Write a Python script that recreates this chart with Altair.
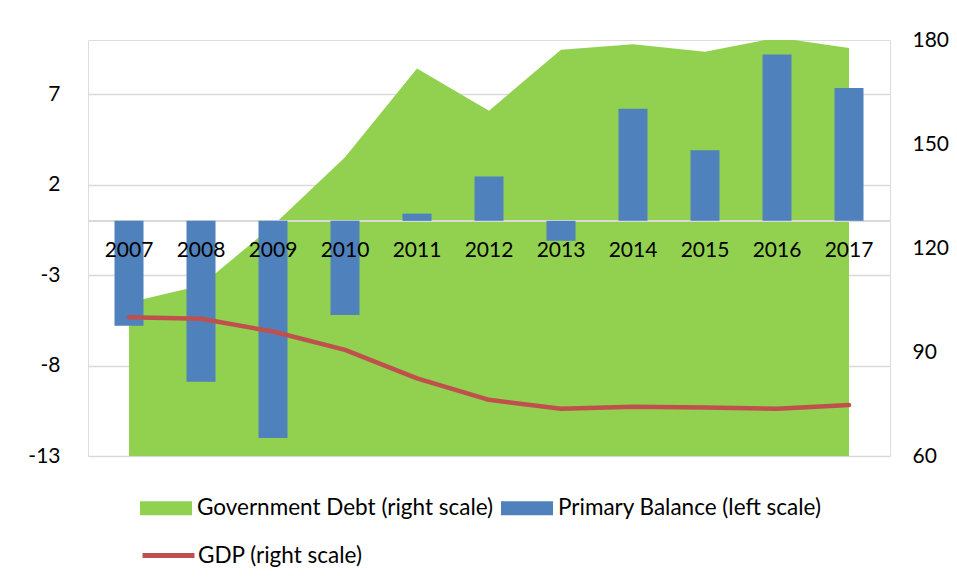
import altair as alt
import pandas as pd

years = [2007, 2008, 2009, 2010, 2011, 2012, 2013, 2014, 2015, 2016, 2017]
year_labels = ["2007", "2008", "2009", "2010", "2011", "2012", "2013", "2014", "2015", "2016", "2017"]
primary_balance = [-5.8, -8.9, -12.0, -5.2, 0.4, 2.45, -1.1, 6.2, 3.9, 9.2, 7.35]
government_debt = [104.3, 109.2, 126.5, 146.2, 171.8, 159.6, 177.2, 178.8, 176.6, 180.7, 177.7]
gdp = [100.0, 99.6, 95.9, 90.6, 82.4, 76.2, 73.6, 74.2, 74.0, 73.6, 74.7]

debt_name = "Government Debt (right scale)"
balance_name = "Primary Balance (left scale)"
gdp_name = "GDP (right scale)"

left_ticks = [-13, -8, -3, 2, 7]
right_ticks = [60, 90, 120, 150, 180]

df = pd.DataFrame({
    "year": years,
    "label": year_labels,
    "balance": primary_balance,
    "debt": government_debt,
    "gdp": gdp,
    "debt_series": [debt_name] * len(years),
    "balance_series": [balance_name] * len(years),
    "gdp_series": [gdp_name] * len(years),
})

FONT = "Lato"
FS = 21
LFS = 22.5

x = alt.X("year:Q", scale=alt.Scale(domain=[2006.5, 2017.5], nice=False, zero=False), axis=None)

right_scale = alt.Scale(domain=[60, 180], nice=False, zero=False)
left_scale = alt.Scale(domain=[-13, 10], nice=False, zero=False)

left_axis = alt.Axis(orient="left", values=left_ticks, grid=True, gridColor="#D9D9D9", gridWidth=1.3,
                     domain=False, ticks=False, labelFont=FONT, labelFontSize=FS, labelColor="#000000",
                     labelPadding=28, title=None, labelExpr="'' + datum.value")
right_axis = alt.Axis(orient="right", values=right_ticks, grid=False, domain=False, ticks=False,
                      labelFont=FONT, labelFontSize=FS, labelColor="#000000", labelPadding=22, title=None,
                      labelExpr="'' + datum.value")

fill_scale = alt.Scale(domain=[debt_name, balance_name], range=["#92D050", "#4F81BD"])
fill_legend = alt.Legend(title=None, orient="none", legendX=52, legendY=442, direction="horizontal",
                         columns=2, symbolType="M-1,-0.27L1,-0.27L1,0.27L-1,0.27Z", symbolSize=2704,
                         symbolStrokeWidth=0, symbolOpacity=1, labelFont=FONT, labelFontSize=LFS,
                         labelColor="#000000", labelOffset=5, columnPadding=7, padding=0, labelLimit=400)

area = alt.Chart(df).mark_area(clip=True, opacity=1).encode(
    x=x,
    y=alt.Y("debt:Q", scale=right_scale, axis=right_axis),
    fill=alt.Fill("debt_series:N", scale=fill_scale, legend=fill_legend),
)

zero_rule = alt.Chart(df).mark_rule(color="#D9D9D9", strokeWidth=1.5).encode(
    y=alt.YDatum(0, scale=left_scale, axis=left_axis),
)

bars = alt.Chart(df).mark_bar(size=29).encode(
    x=x,
    y=alt.Y("balance:Q", scale=left_scale, axis=left_axis),
    y2=alt.Y2Datum(0),
    fill=alt.Fill("balance_series:N", scale=fill_scale, legend=fill_legend),
)

labels = alt.Chart(df).mark_text(font=FONT, fontSize=FS, color="#000000", baseline="middle", dy=30).encode(
    x=x,
    y=alt.YDatum(0, scale=left_scale, axis=left_axis),
    text="label:N",
)

left_group = alt.layer(zero_rule, bars, labels)

line = alt.Chart(df).mark_line(strokeWidth=4.5, strokeCap="round", strokeJoin="round").encode(
    x=x,
    y=alt.Y("gdp:Q", scale=right_scale, axis=None),
    stroke=alt.Stroke("gdp_series:N", scale=alt.Scale(domain=[gdp_name], range=["#C0504D"]),
                      legend=alt.Legend(title=None, orient="none", legendX=52, legendY=487,
                                        symbolType="stroke", symbolSize=2704, symbolStrokeWidth=5,
                                        labelFont=FONT, labelFontSize=LFS, labelColor="#000000",
                                        labelOffset=1, padding=0, labelLimit=400)),
)

chart = alt.layer(area, left_group, line).resolve_scale(y="independent").properties(
    width=802, height=416,
    autosize=alt.AutoSizeParams(type="none"),
    padding={"left": 80, "top": 32, "right": 59, "bottom": 116},
).configure_view(stroke=None).configure(font=FONT)

chart.save("out.html", embed_options={"renderer": "svg", "actions": False})
